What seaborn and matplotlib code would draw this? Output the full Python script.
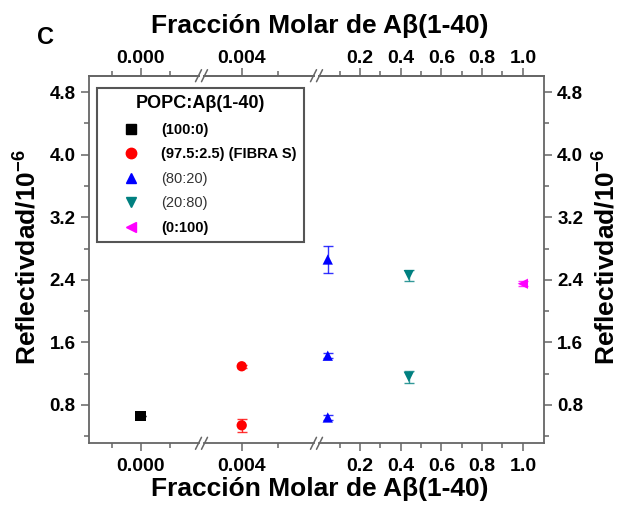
import seaborn as sns
import pandas as pd
import matplotlib.pyplot as plt
from matplotlib.lines import Line2D

# datos
grupos = ['(100:0)', '(97.5:2.5) (FIBRA S)', '(80:20)', '(20:80)', '(0:100)']
colores = ['black', 'red', 'blue', 'teal', 'magenta']
marcadores = ['s', 'o', '^', 'v', '<']
negrita = [True, True, False, False, True]

fraccion = [0.0, 0.004, 0.004, 0.042, 0.042, 0.042, 0.44, 0.44, 1.0]
reflect = [0.655, 1.295, 0.54, 2.66, 1.43, 0.64, 2.46, 1.16, 2.35]
error = [0.0, 0.02, 0.08, 0.17, 0.03, 0.03, 0.07, 0.08, 0.03]
grupo = ['(100:0)', '(97.5:2.5) (FIBRA S)', '(97.5:2.5) (FIBRA S)',
         '(80:20)', '(80:20)', '(80:20)', '(20:80)', '(20:80)', '(0:100)']

df = pd.DataFrame({'x': fraccion, 'y': reflect, 'err': error, 'grupo': grupo})
paleta = dict(zip(grupos, colores))
formas = dict(zip(grupos, marcadores))

sns.set_style('ticks')
plt.rcParams['font.family'] = ['Liberation Sans', 'DejaVu Sans']
plt.rcParams['mathtext.fontset'] = 'custom'
plt.rcParams['mathtext.rm'] = 'Liberation Sans'
plt.rcParams['mathtext.bf'] = 'Liberation Sans:bold'
plt.rcParams['mathtext.default'] = 'bf'
plt.rcParams['text.color'] = 'black'
plt.rcParams['xtick.labelcolor'] = 'black'
plt.rcParams['ytick.labelcolor'] = 'black'

W, H = 619, 508
fig = plt.figure(figsize=(W / 100, H / 100), dpi=100)

y0, y1 = 75.7, 443.3
bot = 1 - y1 / H
alto = (y1 - y0) / H

# tres tramos del eje x (eje cortado); 'rango' decide que puntos van en cada tramo
tramos = [
    dict(px=(89, 199), xlim=(-0.001776, 0.002017), rango=(-1, 0.002),
         major=[0.0], minor=[-0.001, 0.001], fmt='{:.3f}'),
    dict(px=(204, 314), xlim=(0.00297, 0.005975), rango=(0.002, 0.01),
         major=[0.004], minor=[0.005], fmt='{:.3f}'),
    dict(px=(319, 544), xlim=(-0.001, 1.104), rango=(0.01, 2),
         major=[0.2, 0.4, 0.6, 0.8, 1.0], minor=[0.1, 0.3, 0.5, 0.7, 0.9], fmt='{:.1f}'),
]

gris = '#666666'


def estilo_x(eje, t, pad):
    eje.set_xticks(t['major'])
    eje.set_xticklabels([t['fmt'].format(v) for v in t['major']], fontweight='bold')
    eje.set_xticks(t['minor'], minor=True)
    eje.tick_params(axis='x', which='both', direction='out', color=gris,
                    labelcolor='black', labelsize=14, pad=pad)
    eje.tick_params(axis='x', which='major', length=6, width=1.1)
    eje.tick_params(axis='x', which='minor', length=3.5, width=1.1)


axes = []
for i, t in enumerate(tramos):
    ax = fig.add_axes([t['px'][0] / W, bot, (t['px'][1] - t['px'][0]) / W, alto])
    sub = df[(df.x > t['rango'][0]) & (df.x <= t['rango'][1])]
    for g, d in sub.groupby('grupo'):
        ax.errorbar(d.x, d.y, yerr=d.err, fmt='none', ecolor=paleta[g],
                    elinewidth=1, capsize=3.5, capthick=1, alpha=0.8, zorder=2)
    sns.scatterplot(data=sub, x='x', y='y', hue='grupo', style='grupo',
                    palette=paleta, markers=formas, hue_order=grupos, style_order=grupos,
                    s=55, edgecolor='none', legend=False, ax=ax, zorder=3)
    ax.set_xlim(*t['xlim'])
    ax.set_ylim(0.31, 5.01)
    estilo_x(ax, t, 4.5)
    ax.tick_params(axis='x', which='both', top=False)
    arriba = ax.secondary_xaxis('top')
    estilo_x(arriba, t, 0.5)
    arriba.spines['top'].set_color(gris)
    arriba.spines['top'].set_linewidth(1.3)

    ax.set_yticks([0.8, 1.6, 2.4, 3.2, 4.0, 4.8])
    ax.set_yticks([0.4, 1.2, 2.0, 2.8, 3.6, 4.4], minor=True)
    ax.set_xlabel('')
    ax.set_ylabel('')
    ax.tick_params(axis='y', which='both', direction='out', color=gris,
                   labelcolor='black', labelsize=13.5)
    ax.tick_params(axis='y', which='major', length=6, width=1.1)
    ax.tick_params(axis='y', which='minor', length=3.5, width=1.1)
    for s in ax.spines.values():
        s.set_color(gris)
        s.set_linewidth(1.3)
    if i == 0:
        ax.spines['right'].set_visible(False)
        ax.tick_params(axis='y', which='both', left=True, labelleft=True, right=False)
    elif i == 1:
        ax.spines['right'].set_visible(False)
        ax.spines['left'].set_visible(False)
        ax.tick_params(axis='y', which='both', left=False, labelleft=False, right=False)
    else:
        ax.spines['left'].set_visible(False)
        ax.tick_params(axis='y', which='both', left=False, labelleft=False,
                       right=True, labelright=True)
    for lab in ax.get_yticklabels():
        lab.set_fontweight('bold')
    axes.append(ax)

# marcas de corte //
for xb in [201.5, 316.5]:
    for yb in [y0, y1]:
        for dx in [-3, 3]:
            fig.add_artist(Line2D([(xb + dx - 3) / W, (xb + dx + 3) / W],
                                  [1 - (yb + 6) / H, 1 - (yb - 6) / H],
                                  color=gris, lw=1.1))

fig.text(0.517, 1 - 26 / H, 'Fracción Molar de Aβ(1-40)', ha='center', va='center',
         fontsize=19, fontweight='bold')
fig.text(0.517, 1 - 489 / H, 'Fracción Molar de Aβ(1-40)', ha='center', va='center',
         fontsize=19, fontweight='bold')
ylab = r'Reflectivdad/10$^{-6}$'
fig.text(28 / W, 1 - 257 / H, ylab, rotation=90, ha='center', va='center',
         fontsize=19, fontweight='bold')
fig.text(606 / W, 1 - 257 / H, ylab, rotation=90, ha='center', va='center',
         fontsize=19, fontweight='bold')
fig.text(45 / W, 1 - 38 / H, 'C', ha='center', va='center', fontsize=17, fontweight='bold')

handles = [Line2D([], [], linestyle='none', marker=m, color=c, markersize=7.5)
           for m, c in zip(marcadores, colores)]
leg = fig.legend(handles, grupos, loc='upper left', bbox_to_anchor=(97 / W, 1 - 88 / H),
                 title='POPC:Aβ(1-40)', fontsize=10.5, title_fontsize=13,
                 frameon=True, fancybox=False, framealpha=1, edgecolor='#555555',
                 handlelength=3.6, handletextpad=0.3, labelspacing=0.72, borderpad=0.5,
                 borderaxespad=0)
leg.get_frame().set_linewidth(1.5)
leg.get_title().set_fontweight('bold')
for txt, b in zip(leg.get_texts(), negrita):
    txt.set_fontweight('bold' if b else 'normal')
    txt.set_color('black' if b else '#333333')

fig.savefig('out.png', dpi=100)
